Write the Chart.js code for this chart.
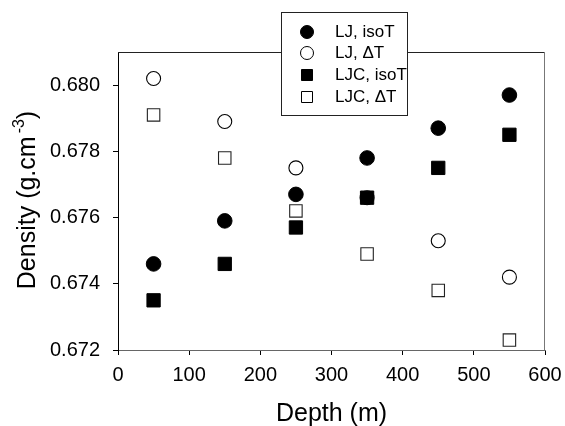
<!DOCTYPE html>
<html>
<head>
<meta charset="utf-8">
<script src="https://cdn.jsdelivr.net/npm/chart.js@4/dist/chart.umd.min.js"></script>
<style>
html,body{margin:0;padding:0;background:#fff;}
#wrap{width:565px;height:426px;position:relative;}
</style>
</head>
<body>
<div id="wrap"><canvas id="c" width="565" height="426"></canvas></div>
<script>
const depths = [50, 150, 250, 350, 450, 550];
const ljIsoT  = [0.6746, 0.6759, 0.6767, 0.6778, 0.6787, 0.6797];
const ljDT    = [0.6802, 0.6789, 0.6775, 0.6766, 0.6753, 0.6742];
const ljcIsoT = [0.6735, 0.6746, 0.6757, 0.6766, 0.6775, 0.6785];
const ljcDT   = [0.6791, 0.6778, 0.6762, 0.6749, 0.6738, 0.6723];
const xTicks = [0, 100, 200, 300, 400, 500, 600];
const yTicks = [0.672, 0.674, 0.676, 0.678, 0.680];
const seriesLabels = ['LJ, isoT', 'LJ, \u0394T', 'LJC, isoT', 'LJC, \u0394T'];
const yTitleParts = ['Density (g.cm', '-3', ')'];

const FONT = "'Liberation Sans', Arial, sans-serif";
const pts = arr => arr.map((v, i) => ({x: depths[i], y: v}));

const frame = {
  id: 'frame',
  afterDatasetsDraw(chart) {
    const {ctx, chartArea: a} = chart;
    ctx.save();
    ctx.lineWidth = 1;
    ctx.strokeStyle = '#222';
    ctx.beginPath(); ctx.moveTo(a.left, a.top + 0.5); ctx.lineTo(a.right, a.top + 0.5); ctx.stroke();
    ctx.strokeStyle = '#777';
    ctx.beginPath(); ctx.moveTo(a.right - 0.5, a.top); ctx.lineTo(a.right - 0.5, a.bottom); ctx.stroke();
    ctx.restore();
  }
};

const yTitle = {
  id: 'yTitle',
  afterDraw(chart) {
    const {ctx, chartArea: a} = chart;
    ctx.save();
    const big = '25px ' + FONT, small = '16px ' + FONT;
    ctx.font = big; const w1 = ctx.measureText(yTitleParts[0]).width; const w3 = ctx.measureText(yTitleParts[2]).width;
    ctx.font = small; const w2 = ctx.measureText(yTitleParts[1]).width;
    const gap = 3;
    const total = w1 + gap + w2 + w3;
    const cy = (a.top + a.bottom) / 2 - 1;
    ctx.translate(35, cy);
    ctx.rotate(-Math.PI / 2);
    ctx.fillStyle = '#000';
    ctx.textBaseline = 'alphabetic';
    ctx.textAlign = 'left';
    let x = -total / 2;
    ctx.font = big; ctx.fillText(yTitleParts[0], x, 0); x += w1 + gap;
    ctx.font = small; ctx.fillText(yTitleParts[1], x, -11); x += w2;
    ctx.font = big; ctx.fillText(yTitleParts[2], x, 0);
    ctx.restore();
  }
};

const legendBox = {
  id: 'legendBox',
  afterDraw(chart) {
    const ctx = chart.ctx;
    const x0 = 281.5, y0 = 12.5, w = 126, h = 103;
    ctx.save();
    ctx.fillStyle = '#fff';
    ctx.fillRect(x0, y0, w, h);
    ctx.strokeStyle = '#222';
    ctx.lineWidth = 1;
    ctx.strokeRect(x0, y0, w, h);
    const rows = [32, 53, 75, 97];
    const mx = 307;
    chart.data.datasets.forEach((ds, i) => {
      const y = rows[i];
      ctx.lineWidth = 1;
      ctx.strokeStyle = '#000';
      ctx.fillStyle = ds.pointBackgroundColor;
      ctx.beginPath();
      if (ds.pointStyle === 'circle') {
        ctx.arc(mx, y, 6.5, 0, Math.PI * 2);
      } else {
        ctx.rect(mx - 5.5, y - 5.5, 11, 11);
      }
      ctx.fill();
      ctx.stroke();
      ctx.fillStyle = '#000';
      ctx.font = '17px ' + FONT;
      ctx.textBaseline = 'middle';
      ctx.textAlign = 'left';
      ctx.fillText(ds.label, 335, y + 0.5);
    });
    ctx.restore();
  }
};

new Chart(document.getElementById('c'), {
  type: 'scatter',
  data: {
    datasets: [
      {label: seriesLabels[0], data: pts(ljIsoT), pointStyle: 'circle', pointRadius: 7.3,
       pointBackgroundColor: '#000', pointBorderColor: '#000', pointBorderWidth: 1, order: 1},
      {label: seriesLabels[1], data: pts(ljDT), pointStyle: 'circle', pointRadius: 7,
       pointBackgroundColor: '#fff', pointBorderColor: '#000', pointBorderWidth: 1.1, order: 3},
      {label: seriesLabels[2], data: pts(ljcIsoT), pointStyle: 'rect', pointRadius: 9.4,
       pointBackgroundColor: '#000', pointBorderColor: '#000', pointBorderWidth: 1, order: 0},
      {label: seriesLabels[3], data: pts(ljcDT), pointStyle: 'rect', pointRadius: 8.8,
       pointBackgroundColor: '#fff', pointBorderColor: '#222', pointBorderWidth: 1.1, order: 2}
    ]
  },
  options: {
    responsive: false,
    animation: false,
    events: [],
    layout: {padding: {top: 52, right: 20, left: 0, bottom: 0}},
    plugins: {legend: {display: false}, tooltip: {enabled: false}},
    scales: {
      x: {
        type: 'linear', min: 0, max: 600,
        afterBuildTicks: s => { s.ticks = xTicks.map(v => ({value: v})); },
        afterFit: s => { s.height = 76; s.paddingLeft = 0; s.paddingRight = 0; },
        grid: {display: true, drawOnChartArea: false, drawTicks: true, tickLength: 5, color: '#000', lineWidth: 1},
        border: {display: true, color: '#666', width: 1},
        ticks: {color: '#000', padding: 8, maxRotation: 0, font: {family: FONT, size: 20}},
        title: {display: true, text: 'Depth (m)', color: '#000', padding: {top: 0, bottom: 0},
                font: {family: FONT, size: 25, lineHeight: 0.96}}
      },
      y: {
        type: 'linear', min: 0.672, max: 0.681,
        afterBuildTicks: s => { s.ticks = yTicks.map(v => ({value: v})); },
        afterFit: s => { s.width = 118; s.paddingTop = 0; s.paddingBottom = 0; },
        grid: {display: true, drawOnChartArea: false, drawTicks: true, tickLength: 5, color: '#000', lineWidth: 1},
        border: {display: true, color: '#000', width: 1},
        ticks: {color: '#000', padding: 13, font: {family: FONT, size: 20},
                callback: v => Number(v).toFixed(3)},
        title: {display: false}
      }
    }
  },
  plugins: [frame, yTitle, legendBox]
});
</script>
</body>
</html>
